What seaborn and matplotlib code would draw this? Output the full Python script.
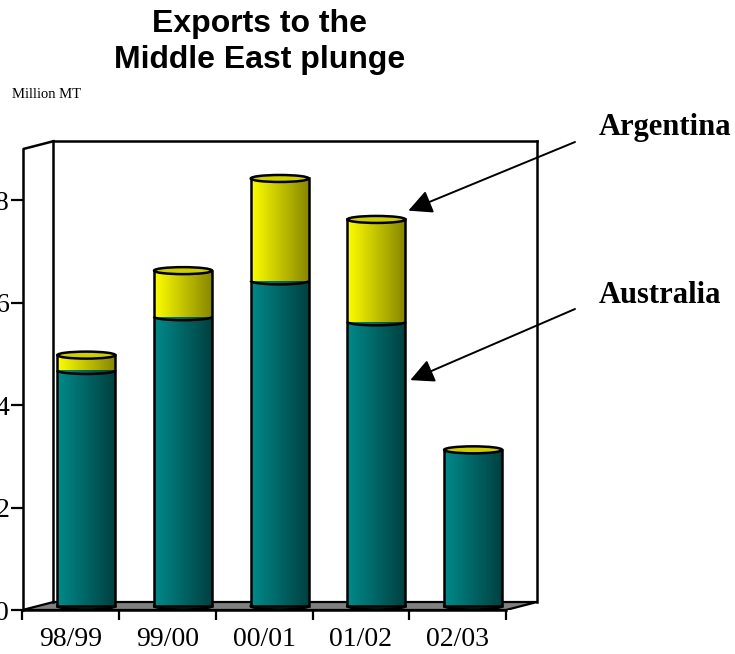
import numpy as np
import pandas as pd
import matplotlib
matplotlib.use("Agg")
import matplotlib.pyplot as plt
import seaborn as sns
from matplotlib.patches import Polygon, Ellipse, Arc
from matplotlib import transforms as mtrans

# ---------------- data ----------------
seasons = ["98/99", "99/00", "00/01", "01/02", "02/03"]
australia = [4.6, 5.65, 6.35, 5.55, 3.05]
argentina = [0.3, 0.9, 2.0, 2.0, 0.0]
y_ticks = [0, 2, 4, 6, 8]

plt.rcParams["font.family"] = ["Liberation Serif", "DejaVu Serif"]

W, H = 735, 654
fig = plt.figure(figsize=(W / 100, H / 100), dpi=100)
ax = fig.add_axes([22.5 / W, 44 / H, 537.5 / W, 490 / H])

TEAL = "#007070"
YELLOW = "#dddd00"

df = pd.DataFrame({"season": seasons, "australia": australia, "argentina": argentina})
df["total"] = df["australia"] + df["argentina"]

sns.barplot(data=df, x="season", y="total", color=YELLOW, width=0.6,
            saturation=1, ax=ax)
n_tot = len(ax.patches)
sns.barplot(data=df, x="season", y="australia", color=TEAL, width=0.6,
            saturation=1, ax=ax)

XMAX = -0.5 + 537.5 / 96.7
YMAX = 490 / 51.2
ax.set_xlim(-0.5, XMAX)
ax.set_ylim(0, YMAX)

# pixel -> data conversion for the pseudo-3D depth
p0 = ax.transData.transform((0, 0))
p1 = ax.transData.transform((1, 1))
ppx, ppy = p1[0] - p0[0], p1[1] - p0[1]
DX, DY = 31 / ppx, 8 / ppy
EH = 7 / ppy
WALL_TOP = 9.0

shift = mtrans.Affine2D().translate(DX / 2, DY / 2) + ax.transData

# floor and back wall
floor = Polygon([(-0.5, 0), (4.5, 0), (4.5 + DX, DY), (-0.5 + DX, DY)],
                closed=True, facecolor="#808080", edgecolor="black", lw=1.6, zorder=1)
ax.add_patch(floor)
lk = dict(color="black", lw=1.8, zorder=1.5, solid_capstyle="projecting")
ax.plot([-0.5 + DX, -0.5 + DX], [DY, WALL_TOP + DY], **lk)
ax.plot([-0.5 + DX, 4.5 + DX], [WALL_TOP + DY, WALL_TOP + DY], **lk)
ax.plot([4.5 + DX, 4.5 + DX], [DY, WALL_TOP + DY], **lk)
ax.plot([-0.5, -0.5 + DX], [WALL_TOP, WALL_TOP + DY], **lk)


def gradient(left, right):
    g = np.linspace(0, 1, 256)[:, None]
    l = np.array(matplotlib.colors.to_rgb(left))
    r = np.array(matplotlib.colors.to_rgb(right))
    return (l * (1 - g) + r * g)[None, :, :]


grad_y = gradient("#ffff00", "#858500")
grad_t = gradient("#008a8a", "#003f3f")

tot_patches = ax.patches[:n_tot]
aus_patches = ax.patches[n_tot:n_tot + len(seasons)]

for i, (pt, pa) in enumerate(zip(tot_patches, aus_patches)):
    for p, grad, z in ((pt, grad_y, 2.6), (pa, grad_t, 3.0)):
        p.set_transform(shift)
        x0, w, h = p.get_x(), p.get_width(), p.get_height()
        im = ax.imshow(grad, extent=(x0, x0 + w, 0, h), aspect="auto",
                       transform=shift, zorder=z, interpolation="bilinear")
        im.set_clip_path(p)
    pa.set_facecolor("none")
    pa.set_linewidth(0)
    pt.set_facecolor("none")
    pt.set_edgecolor("black")
    pt.set_linewidth(1.8)
    pt.set_zorder(4)

    x0, w = pt.get_x(), pt.get_width()
    cx = x0 + w / 2
    # bottom of the cylinder
    ax.add_patch(Ellipse((cx, 0), w, EH, transform=shift, facecolor="#005a5a",
                         edgecolor="black", lw=1.8, zorder=2.5))
    # boundary between series
    if argentina[i] > 0:
        ax.add_patch(Arc((cx, australia[i]), w, EH, theta1=180, theta2=360,
                         transform=shift, color="black", lw=1.8, zorder=5))
    # cylinder top
    ax.add_patch(Ellipse((cx, pt.get_height()), w, EH, transform=shift,
                         facecolor="#cfcf00", edgecolor="black", lw=1.8, zorder=5))

ax.set_xlim(-0.5, XMAX)
ax.set_ylim(0, YMAX)

# axes styling
for s in ("top", "right"):
    ax.spines[s].set_visible(False)
ax.spines["left"].set_bounds(0, WALL_TOP)
ax.spines["bottom"].set_bounds(-0.5, 4.5)
for s in ("left", "bottom"):
    ax.spines[s].set_linewidth(1.8)
    ax.spines[s].set_zorder(6)

ax.set_yticks(y_ticks)
ax.set_xticks(range(len(seasons)))
ax.set_xticklabels(seasons)
ax.set_xticks(np.arange(-0.5, 5.0, 1.0), minor=True)
ax.tick_params(axis="y", length=8.6, width=1.6, labelsize=20, pad=1)
ax.tick_params(axis="x", which="major", length=0, labelsize=20, pad=12)
ax.tick_params(axis="x", which="minor", length=7, width=1.6)
ax.set_xlabel("")
ax.set_ylabel("")
ax.set_facecolor("none")

# titles and labels
tk = dict(ha="center", va="baseline", fontsize=23, fontweight="bold",
          family=["Liberation Sans", "DejaVu Sans"])
fig.text(260 / W, 1 - 32 / H, "Exports to the", **tk)
fig.text(260 / W, 1 - 68 / H, "Middle East plunge", **tk)
fig.text(12 / W, 1 - 98 / H, "Million MT", fontsize=10.5, va="baseline")

fig.text(599 / W, 1 - 135 / H, "Argentina", fontsize=22, fontweight="bold", va="baseline")
fig.text(599 / W, 1 - 303 / H, "Australia", fontsize=22, fontweight="bold", va="baseline")

ap = dict(arrowstyle="-|>,head_length=1.0,head_width=0.5", mutation_scale=14.4,
          lw=1.4, color="black", shrinkA=0, shrinkB=0)
ax.annotate("", xy=(3.49, 7.8), xycoords="data", xytext=(575, H - 142),
            textcoords="figure pixels", arrowprops=ap, annotation_clip=False)
ax.annotate("", xy=(3.51, 4.49), xycoords="data", xytext=(575, H - 309),
            textcoords="figure pixels", arrowprops=ap, annotation_clip=False)

fig.savefig("out.png", dpi=100)
